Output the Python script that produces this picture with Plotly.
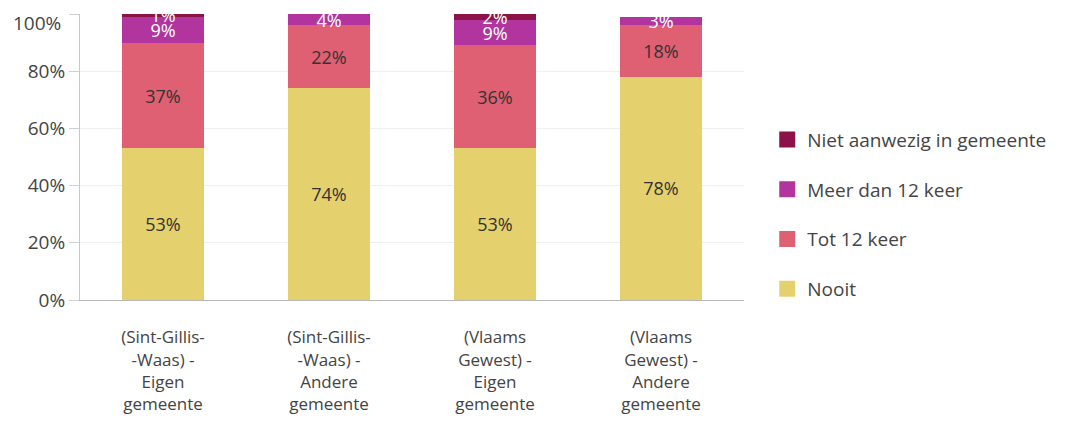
import plotly.graph_objects as go

categories = [
    "(Sint-Gillis-<br>-Waas) -<br>Eigen<br>gemeente",
    "(Sint-Gillis-<br>-Waas) -<br>Andere<br>gemeente",
    "(Vlaams<br>Gewest) -<br>Eigen<br>gemeente",
    "(Vlaams<br>Gewest) -<br>Andere<br>gemeente",
]
nooit = [53, 74, 53, 78]
tot_12 = [37, 22, 36, 18]
meer_12 = [9, 4, 9, 3]
niet_aanwezig = [1, 0, 2, 0]

y_ticks = [0, 20, 40, 60, 80, 100]
y_ticktext = ["0%", "20%", "40%", "60%", "80%", "100%"]

series = [
    ("Nooit", nooit, "#E5D06E", "#333333"),
    ("Tot 12 keer", tot_12, "#DE6072", "#333333"),
    ("Meer dan 12 keer", meer_12, "#B2359F", "#FFFFFF"),
    ("Niet aanwezig in gemeente", niet_aanwezig, "#8C1347", "#FFFFFF"),
]

FONT = "Open Sans"

fig = go.Figure()
for name, vals, color, tcolor in series:
    fig.add_trace(go.Bar(
        x=categories, y=vals, name=name,
        marker=dict(color=color, line=dict(width=0)),
        text=[f"{v}%" if v > 0 else "" for v in vals],
        textposition="inside", insidetextanchor="middle",
        textfont=dict(color=tcolor, size=18, family=FONT),
        showlegend=False,
        cliponaxis=True,
    ))

# legend entries (top to bottom: last stacked series first)
for i, (name, vals, color, tcolor) in enumerate(reversed(series)):
    fig.add_trace(go.Scatter(
        x=[None], y=[None], mode="markers", name=name,
        marker=dict(symbol="square", size=16, color=color),
        legendgroup=f"g{i}", showlegend=True,
    ))

# top tick label is drawn slightly below its tick (it would be cut off otherwise)
fig.add_annotation(
    x=0, xref="paper", xanchor="right", xshift=-17,
    y=y_ticks[-1], yref="y", yanchor="middle", yshift=-9,
    text=y_ticktext[-1], showarrow=False,
    font=dict(size=19, color="#444444", family=FONT),
)

fig.update_layout(
    barmode="stack",
    bargap=0.505,
    width=1088, height=423,
    margin=dict(l=72, r=352, t=6, b=131),
    plot_bgcolor="white", paper_bgcolor="white",
    font=dict(family=FONT, color="#444444"),
    uniformtext=dict(minsize=18, mode="show"),
    legend=dict(
        x=1.035, y=0.30, xanchor="left", yanchor="middle",
        traceorder="grouped", tracegroupgap=22,
        font=dict(size=19, color="#444444", family=FONT),
        itemsizing="trace",
    ),
    showlegend=True,
)
fig.update_yaxes(
    range=[0, 100], tickvals=y_ticks,
    ticktext=y_ticktext[:-1] + [""],
    showgrid=True, gridcolor="#EFEFEF", gridwidth=1,
    showline=True, linecolor="#C8C8C8", linewidth=1,
    ticks="outside", ticklen=10, tickcolor="#D0D0D0",
    tickfont=dict(size=19, color="#444444", family=FONT),
    zeroline=False, automargin=False,
)
fig.update_xaxes(
    showline=True, linecolor="#B8B8B8", linewidth=1,
    tickfont=dict(size=17, color="#444444", family=FONT),
    ticks="", automargin=False, ticklabelstandoff=22,
)

fig.write_html("out.html")
